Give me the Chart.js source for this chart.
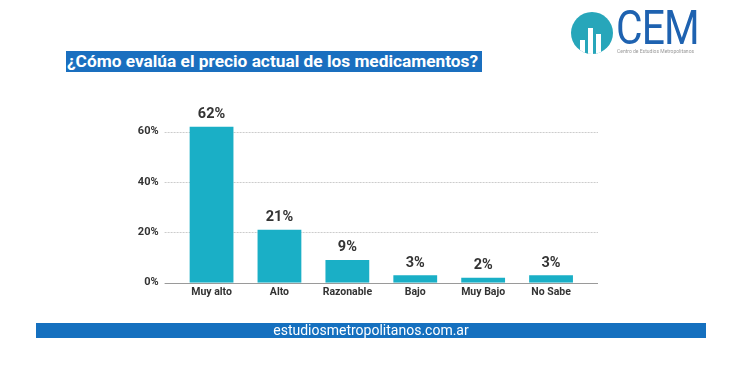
<!DOCTYPE html>
<html>
<head>
<meta charset="utf-8">
<script src="https://cdn.jsdelivr.net/npm/chart.js@4/dist/chart.umd.min.js"></script>
<style>
  html, body { margin: 0; padding: 0; background: #fff; }
  #wrap { position: relative; width: 750px; height: 369px; overflow: hidden; font-family: Roboto, sans-serif; }
  #chart { position: absolute; left: 0; top: 0; }
  .title {
    position: absolute; left: 66px; top: 51px; width: 416px; height: 21px;
    background: #1a6fbf; color: #fff; font-weight: bold; font-size: 17.3px;
    line-height: 21px; white-space: nowrap; padding-left: 1px; box-sizing: border-box;
  }
  .footer {
    position: absolute; left: 36px; top: 323px; width: 670px; height: 15px;
    background: #1570bf; color: #fff; font-size: 14px; line-height: 15px; text-align: center;
  }
  .logo-circle {
    position: absolute; left: 571px; top: 12px; width: 42px; height: 42px;
    border-radius: 50%; background: #27a6ba; overflow: hidden;
  }
  .logo-circle div { position: absolute; bottom: 0; width: 5px; background: #fff; }
  .logo-text {
    position: absolute; left: 616px; top: 2px; color: #1e62b0; font-size: 48px;
    line-height: 52px; transform: scaleX(0.85); transform-origin: left top; letter-spacing: -1px;
  }
  .logo-sub {
    position: absolute; left: 617px; top: 48px; color: #999; font-size: 5px; white-space: nowrap;
  }
</style>
</head>
<body>
<div id="wrap">
  <canvas id="chart" width="750" height="369"></canvas>
  <div class="title">¿Cómo evalúa el precio actual de los medicamentos?</div>
  <div class="logo-circle">
    <div style="left:9px;height:14px"></div>
    <div style="left:17px;height:26px"></div>
    <div style="left:25px;height:20px"></div>
  </div>
  <div class="logo-text">CEM</div>
  <div class="logo-sub">Centro de Estudios Metropolitanos</div>
  <div class="footer">estudiosmetropolitanos.com.ar</div>
</div>
<script>
// Data
const categories = ['Muy alto', 'Alto', 'Razonable', 'Bajo', 'Muy Bajo', 'No Sabe'];
const values = [62, 21, 9, 3, 2, 3];
const yTicks = [0, 20, 40, 60];

const barColor = '#1aafc6';
const textColor = '#333333';

// Dotted gridlines that run a bit wider than the plot area, plus the solid base line
const gridPlugin = {
    id: 'wideGrid',
    beforeDatasetsDraw(chart) {
        const ctx = chart.ctx;
        const y = chart.scales.y;
        const x0 = chart.chartArea.left - 13;
        const x1 = chart.chartArea.right + 13;
        ctx.save();
        yTicks.forEach(v => {
            const py = Math.round(y.getPixelForValue(v)) + 0.5;
            ctx.beginPath();
            if (v === 0) {
                ctx.setLineDash([]);
                ctx.strokeStyle = '#9a9a9a';
            } else {
                ctx.setLineDash([2, 1]);
                ctx.strokeStyle = '#cccccc';
            }
            ctx.lineWidth = 1;
            ctx.moveTo(x0, py);
            ctx.lineTo(x1, py);
            ctx.stroke();
        });
        ctx.restore();
    }
};

// Value labels above each bar
const labelPlugin = {
    id: 'valueLabels',
    afterDatasetsDraw(chart) {
        const ctx = chart.ctx;
        const meta = chart.getDatasetMeta(0);
        ctx.save();
        ctx.font = 'bold 14.5px Roboto';
        ctx.fillStyle = textColor;
        ctx.textAlign = 'center';
        ctx.textBaseline = 'bottom';
        meta.data.forEach((bar, i) => {
            ctx.fillText(values[i] + '%', bar.x, bar.y - 5);
        });
        ctx.restore();
    }
};

new Chart(document.getElementById('chart').getContext('2d'), {
    type: 'bar',
    data: {
        labels: categories,
        datasets: [{
            data: values,
            backgroundColor: barColor,
            categoryPercentage: 1,
            barPercentage: 0.645
        }]
    },
    options: {
        responsive: false,
        animation: false,
        layout: { padding: { left: 0, right: 165, top: 106.5, bottom: 0 } },
        plugins: { legend: { display: false }, tooltip: { enabled: false } },
        scales: {
            x: {
                grid: { display: false, drawTicks: false },
                border: { display: false },
                ticks: { color: textColor, font: { family: 'Roboto', weight: 'bold', size: 10.5 }, padding: 3, maxRotation: 0 },
                afterFit(scale) { scale.height = 86.3; }
            },
            y: {
                min: 0,
                max: 70,
                grid: { display: false, drawTicks: false },
                border: { display: false },
                ticks: {
                    stepSize: 20,
                    color: textColor,
                    font: { family: 'Roboto', weight: 'bold', size: 11 },
                    padding: 19,
                    callback: v => v + '%'
                },
                afterBuildTicks(scale) {
                    scale.ticks = yTicks.map(v => ({ value: v }));
                },
                afterFit(scale) { scale.width = 177.6; }
            }
        }
    },
    plugins: [gridPlugin, labelPlugin]
});
</script>
</body>
</html>
